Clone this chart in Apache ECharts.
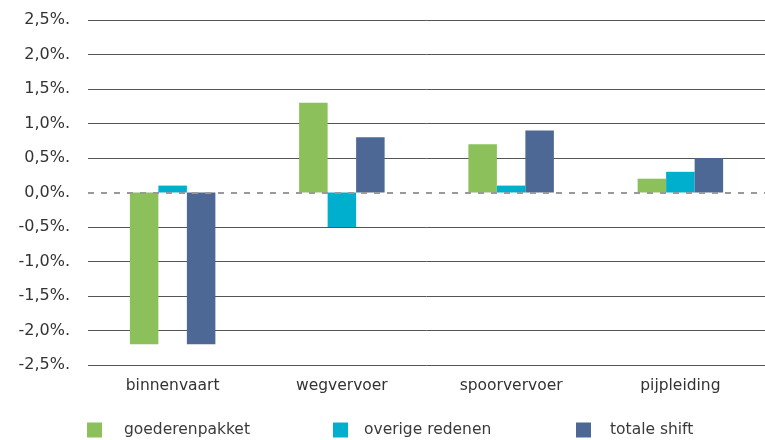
<!DOCTYPE html>
<html><head><meta charset="utf-8">
<script src="https://cdn.jsdelivr.net/npm/echarts@6/dist/echarts.min.js"></script>
<style>html,body{margin:0;padding:0;background:#fff}#c{width:765px;height:440px}</style>
</head><body><div id="c"></div>
<script>
const categories = ['binnenvaart', 'wegvervoer', 'spoorvervoer', 'pijpleiding'];
const goederenpakket = [-2.2, 1.3, 0.7, 0.2];
const overigeRedenen = [0.1, -0.5, 0.1, 0.3];
const totaleShift = [-2.2, 0.8, 0.9, 0.5];
const seriesNames = ['goederenpakket', 'overige redenen', 'totale shift'];
const colors = ['#8BC05A', '#00AECD', '#4D6894'];

const font = 'DejaVu Sans';
const chart = echarts.init(document.getElementById('c'));
const lineColors = [];
for (let i = 0; i < 11; i++) lineColors.push(i === 5 ? 'rgba(0,0,0,0)' : '#555');
const legendLefts = [82, 328, 571];
const legendPads = [17, 11, 14];
chart.setOption({
  animation: false,
  color: colors,
  grid: { left: 88, width: 681, top: 20, bottom: 75 },
  legend: seriesNames.map((n, i) => ({
    data: [n], left: legendLefts[i], top: 417, itemWidth: 15, itemHeight: 15,
    icon: 'rect', selectedMode: false,
    textStyle: { fontFamily: font, fontSize: 15.5, color: '#3a3a3a', padding: [0, 0, 0, legendPads[i]] }
  })),
  xAxis: {
    type: 'category', data: categories,
    axisLine: { show: false }, axisTick: { show: false },
    axisLabel: { fontFamily: font, fontSize: 15.5, color: '#333', margin: 13 }
  },
  yAxis: {
    type: 'value', min: -2.5, max: 2.5, interval: 0.5,
    axisLine: { show: false }, axisTick: { show: false },
    splitLine: { lineStyle: { color: lineColors, width: 1 } },
    axisLabel: { fontFamily: font, fontSize: 16, color: '#333', margin: 18,
      formatter: v => v.toFixed(1).replace('.', ',') + '%.' }
  },
  series: [goederenpakket, overigeRedenen, totaleShift].map((d, i) => ({
    name: seriesNames[i], type: 'bar', data: d, barWidth: 28.5, barGap: '0%',
    markLine: i === 0 ? { silent: true, symbol: 'none', label: { show: false },
      lineStyle: { color: '#999', type: [6, 7], width: 2 }, data: [{ yAxis: 0 }] } : undefined
  }))
});
</script></body></html>
